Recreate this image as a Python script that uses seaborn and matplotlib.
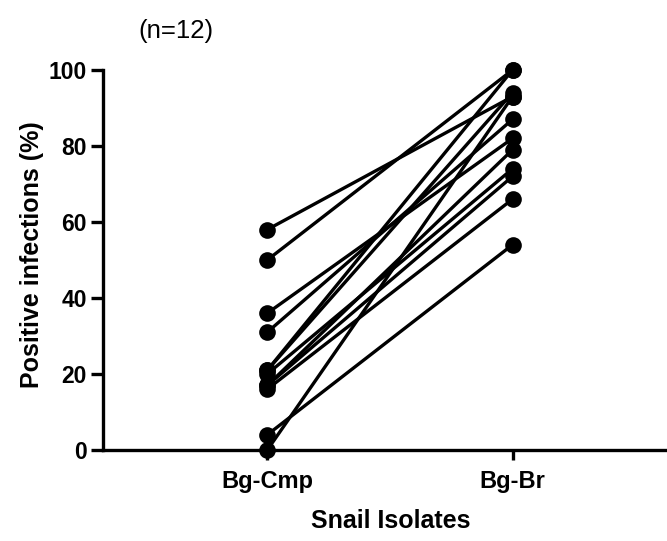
import matplotlib
matplotlib.use("Agg")
import matplotlib.pyplot as plt
import seaborn as sns
import pandas as pd

categories = ["Bg-Cmp", "Bg-Br"]
bg_cmp = [58, 50, 36, 31, 21, 21, 20, 17, 17, 16, 4, 0]
bg_br = [93, 100, 82, 87, 100, 94, 74, 72, 79, 66, 54, 93]
y_ticks = [0, 20, 40, 60, 80, 100]

rows = []
for i, (a, b) in enumerate(zip(bg_cmp, bg_br)):
    rows.append({"snail": i, "isolate": categories[0], "value": a})
    rows.append({"snail": i, "isolate": categories[1], "value": b})
df = pd.DataFrame(rows)

sns.set_theme(style="ticks")
plt.rcParams["font.family"] = ["Liberation Sans", "DejaVu Sans"]
plt.rcParams["text.color"] = "black"
plt.rcParams["axes.labelcolor"] = "black"

fig = plt.figure(figsize=(6.67, 5.41), dpi=100)
ax = fig.add_axes([103 / 667, 91 / 541, 564 / 667, 380 / 541])

sns.lineplot(data=df, x="isolate", y="value", units="snail", estimator=None,
             color="black", marker="o", markersize=12, markeredgewidth=0,
             linewidth=2.4, legend=False, ax=ax, sort=False)
for ln in ax.lines:
    ln.set_clip_on(False)

ax.set_xlim(-0.67, 1.63)
ax.set_ylim(0, 100)
ax.set_yticks(y_ticks)
ax.set_yticklabels([str(t) for t in y_ticks], fontsize=16.5, fontweight="bold")
ax.set_xticks([0, 1])
ax.set_xticklabels(categories, fontsize=17, fontweight="bold")

for side in ["top", "right"]:
    ax.spines[side].set_visible(False)
for side in ["left", "bottom"]:
    ax.spines[side].set_linewidth(2.4)
    ax.spines[side].set_color("black")
ax.tick_params(axis="y", length=8.5, width=2.4, pad=3, colors="black")
ax.tick_params(axis="x", length=7.5, width=2.4, pad=7, colors="black")

ax.set_ylabel("Positive infections (%)", fontsize=18, fontweight="bold")
ax.set_xlabel("Snail Isolates", fontsize=18, fontweight="bold")
ax.yaxis.set_label_coords(-0.105, 0.513)
ax.xaxis.set_label_coords(0.51, -0.155)

fig.text(176 / 667, 1 - 31 / 541, "(n=12)", ha="center", va="center", fontsize=18.5)

fig.savefig("out.png", dpi=100)
